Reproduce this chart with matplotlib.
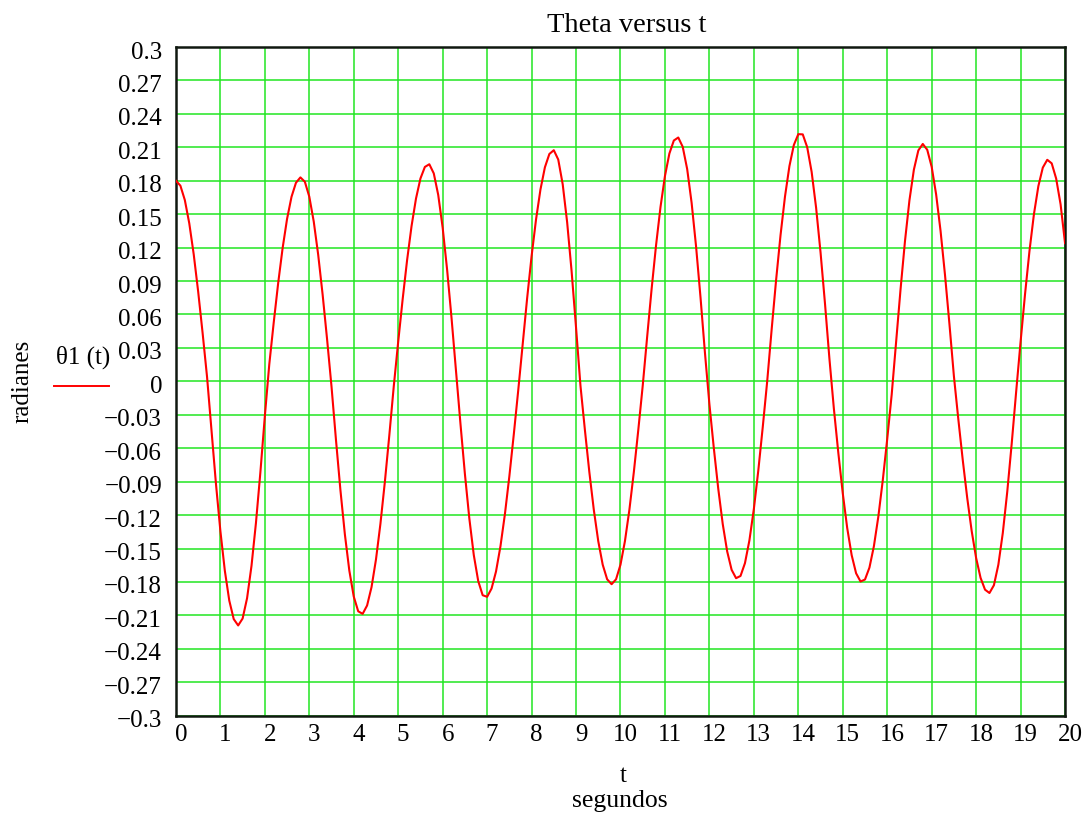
import numpy as np
import matplotlib
matplotlib.use("Agg")
import matplotlib.pyplot as plt
from matplotlib.transforms import ScaledTranslation

# ---- data (t in s, theta in rad) ----
t_values = [round(0.1 * k, 1) for k in range(201)]
theta_values = [
    0.1800, 0.1756, 0.1627, 0.1418, 0.1140, 0.0806, 0.0434, 0.0040, -0.0445, -0.0918,
    -0.1343, -0.1699, -0.1967, -0.2133, -0.2190, -0.2128, -0.1946, -0.1655, -0.1270, -0.0814,
    -0.0312, 0.0153, 0.0529, 0.0882, 0.1196, 0.1458, 0.1656, 0.1782, 0.1830, 0.1791,
    0.1657, 0.1434, 0.1136, 0.0778, 0.0378, -0.0048, -0.0525, -0.0975, -0.1372, -0.1697,
    -0.1931, -0.2063, -0.2086, -0.2011, -0.1846, -0.1598, -0.1278, -0.0901, -0.0484, -0.0045,
    0.0356, 0.0737, 0.1088, 0.1393, 0.1640, 0.1820, 0.1924, 0.1948, 0.1866, 0.1673,
    0.1379, 0.1002, 0.0566, 0.0096, -0.0379, -0.0830, -0.1231, -0.1558, -0.1792, -0.1919,
    -0.1933, -0.1859, -0.1706, -0.1480, -0.1192, -0.0852, -0.0476, -0.0080, 0.0337, 0.0745,
    0.1122, 0.1452, 0.1722, 0.1921, 0.2040, 0.2074, 0.1990, 0.1769, 0.1428, 0.0990,
    0.0484, -0.0040, -0.0438, -0.0816, -0.1153, -0.1434, -0.1645, -0.1776, -0.1820, -0.1776,
    -0.1645, -0.1434, -0.1153, -0.0815, -0.0438, -0.0040, 0.0400, 0.0828, 0.1221, 0.1564,
    0.1842, 0.2044, 0.2161, 0.2188, 0.2104, 0.1905, 0.1602, 0.1211, 0.0754, 0.0256,
    -0.0204, -0.0601, -0.0966, -0.1280, -0.1526, -0.1691, -0.1766, -0.1746, -0.1631, -0.1427,
    -0.1145, -0.0800, -0.0411, 0.0000, 0.0464, 0.0907, 0.1311, 0.1657, 0.1931, 0.2121,
    0.2218, 0.2216, 0.2101, 0.1879, 0.1559, 0.1158, 0.0699, 0.0203, -0.0245, -0.0641,
    -0.1004, -0.1316, -0.1559, -0.1722, -0.1796, -0.1778, -0.1671, -0.1480, -0.1214, -0.0888,
    -0.0518, -0.0121, 0.0348, 0.0827, 0.1260, 0.1625, 0.1900, 0.2072, 0.2130, 0.2078,
    0.1925, 0.1678, 0.1349, 0.0954, 0.0513, 0.0047, -0.0342, -0.0709, -0.1047, -0.1343,
    -0.1585, -0.1763, -0.1869, -0.1899, -0.1829, -0.1645, -0.1360, -0.0991, -0.0560, -0.0095,
    0.0355, 0.0782, 0.1170, 0.1499, 0.1752, 0.1918, 0.1988, 0.1956, 0.1820, 0.1588,
    0.1240,
]

x_ticks = list(range(0, 21))
x_tick_labels = [str(v) for v in x_ticks]
y_ticks = [round(-0.30 + 0.03 * k, 2) for k in range(21)]
y_tick_labels = ["\u22120.3", "\u22120.27", "\u22120.24", "\u22120.21", "\u22120.18", "\u22120.15",
                 "\u22120.12", "\u22120.09", "\u22120.06", "\u22120.03", "0", "0.03", "0.06",
                 "0.09", "0.12", "0.15", "0.18", "0.21", "0.24", "0.27", "0.3"]

title_text = "Theta versus t"
legend_text = "\u03b81 (t)"
ylabel_text = "radianes"
xlabel_top = "t"
xlabel_bottom = "segundos"

plt.rcParams['font.family'] = ['Liberation Serif', 'DejaVu Serif']

fig = plt.figure(figsize=(10.86, 8.16), dpi=100)
ax = fig.add_axes([0.162, 0.1229, 0.8187, 0.8195])

ax.plot(t_values, theta_values, color='#ff0000', lw=1.5, zorder=3)

ax.set_xlim(0, 20)
ax.set_ylim(-0.3, 0.3)
ax.set_xticks(x_ticks)
ax.set_xticklabels(x_tick_labels, fontsize=18)
ax.set_yticks(y_ticks)
ax.set_yticklabels(y_tick_labels, fontsize=18)
ax.tick_params(axis='both', length=0)
ax.tick_params(axis='y', pad=10)
ax.tick_params(axis='x', pad=6)
ax.grid(True, color='#22e622', lw=1.1, zorder=1)
ax.set_axisbelow(True)
for s in ax.spines.values():
    s.set_color('#101810')
    s.set_linewidth(1.8)

off = ScaledTranslation(5 / 100, 0, fig.dpi_scale_trans)
for lab in ax.get_xticklabels():
    lab.set_transform(lab.get_transform() + off)
offy = ScaledTranslation(0, -3 / 100, fig.dpi_scale_trans)
for lab in ax.get_yticklabels():
    lab.set_transform(lab.get_transform() + offy)

fig.text(627 / 1086, 1 - 26 / 816, title_text, fontsize=20.5, ha='center', va='center')
fig.text(22 / 1086, 1 - 381 / 816, ylabel_text, fontsize=18, rotation=90, ha='center', va='center')
fig.text(83 / 1086, 1 - 357 / 816, legend_text, fontsize=18, ha='center', va='center')
fig.add_artist(plt.Line2D([54 / 1086, 109 / 1086], [1 - 386 / 816, 1 - 386 / 816],
                          color='#ff0000', lw=1.4, transform=fig.transFigure))
fig.text(623 / 1086, 1 - 776 / 816, xlabel_top, fontsize=18, ha='center', va='center')
fig.text(620 / 1086, 1 - 801 / 816, xlabel_bottom, fontsize=18.5, ha='center', va='center')

fig.savefig('out.png', dpi=100)
